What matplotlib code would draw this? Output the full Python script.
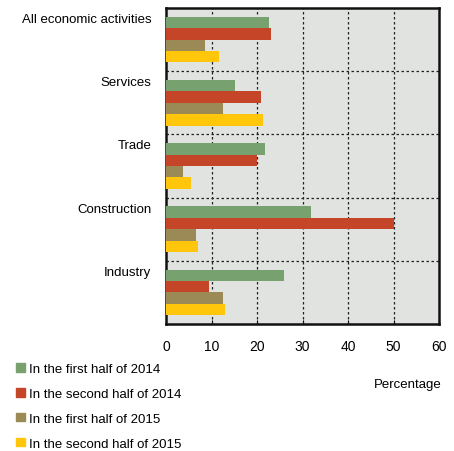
import numpy as np
import matplotlib.pyplot as plt
from matplotlib.patches import Patch

plt.rcParams['font.family'] = ['Liberation Sans', 'DejaVu Sans']

categories = ['All economic activities', 'Services', 'Trade', 'Construction', 'Industry']
series = ['In the first half of 2014', 'In the second half of 2014',
          'In the first half of 2015', 'In the second half of 2015']
h1_2014 = [22.7, 15.2, 21.8, 31.8, 25.9]
h2_2014 = [23.0, 20.8, 19.9, 50.0, 9.5]
h1_2015 = [8.6, 12.5, 3.8, 6.7, 12.5]
h2_2015 = [11.6, 21.3, 5.5, 7.0, 12.9]
values = [h1_2014, h2_2014, h1_2015, h2_2015]
colors = ['#77a26f', '#c44527', '#9b8a55', '#ffc60b']
xticks = [0, 10, 20, 30, 40, 50, 60]

fig = plt.figure(figsize=(4.54, 4.52), dpi=100)
ax = fig.add_axes([166 / 454, 1 - 325 / 452, 273 / 454, 316 / 452])
ax.set_facecolor('#e0e3df')

n = len(categories)
bar_h = 0.18
pad = (1 - 4 * bar_h) / 2
for k, (vals, c) in enumerate(zip(values, colors)):
    y = np.arange(n) + pad + k * bar_h + bar_h / 2
    ax.barh(y, vals, height=bar_h, color=c, label=series[k], zorder=3)

ax.set_ylim(n, 0)
ax.set_xlim(0, 60)
ax.set_xticks(xticks)
ax.set_yticks(np.arange(n) + 0.15)
ax.set_yticklabels(categories, fontsize=9.5)
ax.tick_params(axis='y', left=False, pad=7)
ax.tick_params(axis='x', direction='in', length=3, pad=11, labelsize=10)

for x in xticks[1:-1]:
    ax.axvline(x, color='#222222', ls=(0, (2, 2)), lw=0.9, zorder=2)
for y in range(1, n):
    ax.axhline(y, color='#222222', ls=(0, (2, 2)), lw=0.9, zorder=2)

for s in ax.spines.values():
    s.set_linewidth(1.8)
    s.set_color('#111111')

fig.text(442 / 454, 1 - 385 / 452, 'Percentage', ha='right', va='center', fontsize=9.5)

handles = [Patch(color=c, label=s) for c, s in zip(colors, series)]
fig.legend(handles=handles, loc='upper left', bbox_to_anchor=(16 / 454, 1 - 364 / 452),
           frameon=False, fontsize=9.5, handlelength=0.65, handleheight=0.65,
           handletextpad=0.3, labelspacing=0.97, borderaxespad=0, borderpad=0)

fig.savefig('out.png', dpi=100)
